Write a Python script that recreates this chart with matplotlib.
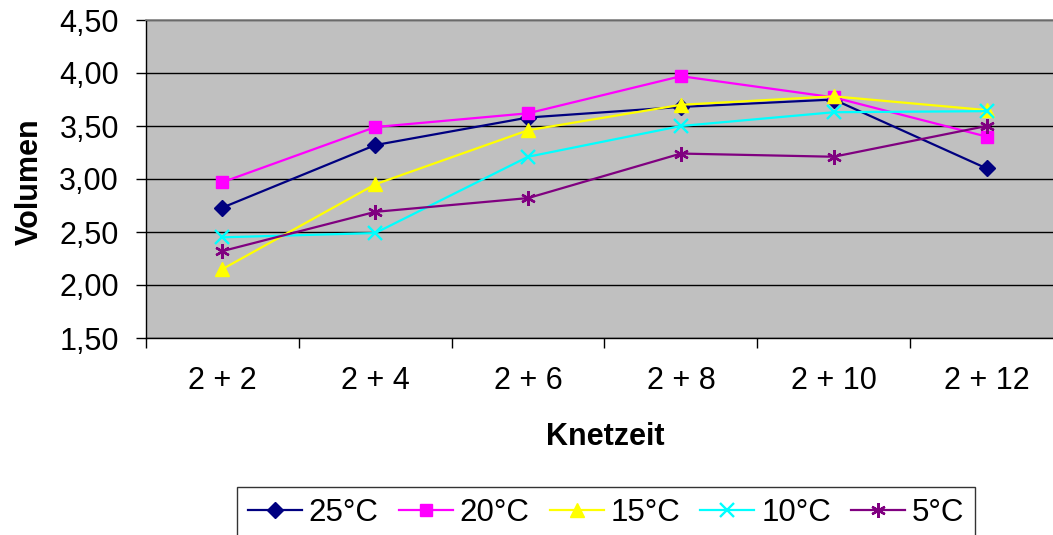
import matplotlib
matplotlib.use("Agg")
import matplotlib.pyplot as plt

plt.rcParams['font.family'] = ['Liberation Sans', 'DejaVu Sans']

categories = ["2 + 2", "2 + 4", "2 + 6", "2 + 8", "2 + 10", "2 + 12"]
series_names = ["25°C", "20°C", "15°C", "10°C", "5°C"]
v25 = [2.73, 3.32, 3.58, 3.68, 3.75, 3.10]
v20 = [2.97, 3.49, 3.62, 3.97, 3.77, 3.40]
v15 = [2.15, 2.95, 3.46, 3.70, 3.78, 3.65]
v10 = [2.45, 2.49, 3.21, 3.50, 3.63, 3.64]
v5 = [2.32, 2.69, 2.82, 3.24, 3.21, 3.50]
yticks = [1.5, 2.0, 2.5, 3.0, 3.5, 4.0, 4.5]
ytick_labels = ["1,50", "2,00", "2,50", "3,00", "3,50", "4,00", "4,50"]

values = [v25, v20, v15, v10, v5]
colors = ["#000080", "#FF00FF", "#FFFF00", "#00FFFF", "#800080"]
markers = ["D", "s", "^", "x", (6, 2, 0)]
msizes = [8, 8.5, 10, 9.5, 10.5]

FS = 22
W, H = 1053, 535
fig = plt.figure(figsize=(W / 100, H / 100), dpi=100)
l, r, t, b = 146, 1063, 20, 338
ax = fig.add_axes([l / W, 1 - b / H, (r - l) / W, (b - t) / H])
ax.set_facecolor("#C0C0C0")

x = list(range(len(categories)))
for name, vals, c, m, ms in zip(series_names, values, colors, markers, msizes):
    kw = dict(markerfacecolor=c, markeredgecolor=c)
    if m == "x" or isinstance(m, tuple):
        kw["markeredgewidth"] = 1.7
    ax.plot(x, vals, color=c, lw=1.6, marker=m, markersize=ms, label=name,
            zorder=3, **kw)

ax.set_xlim(-0.5, len(categories) - 0.5)
ax.set_ylim(1.5, 4.5)
ax.set_yticks(yticks)
ax.set_yticklabels(ytick_labels, fontsize=FS)
ax.set_xticks([i - 0.5 for i in range(len(categories) + 1)])
ax.set_xticklabels([])
ax.set_xticks(x, minor=True)
ax.set_xticklabels(categories, minor=True, fontsize=FS)
ax.tick_params(axis='x', which='minor', length=0, pad=20)
ax.tick_params(axis='x', which='major', length=7.5, width=1, direction='out')
ax.tick_params(axis='y', length=7.5, width=1, direction='out', pad=12)
ax.yaxis.grid(True, color="#000000", lw=1)
ax.set_axisbelow(True)
for s in ["top", "right"]:
    ax.spines[s].set_color("#808080")
    ax.spines[s].set_linewidth(1.2)
for s in ["left", "bottom"]:
    ax.spines[s].set_color("#000000")
    ax.spines[s].set_linewidth(1)

fig.text(30 / W, 1 - 182 / H, "Volumen", fontsize=FS, fontweight="bold",
         rotation=90, ha="center", va="center")
fig.text(605 / W, 1 - 437 / H, "Knetzeit", fontsize=FS, fontweight="bold",
         ha="center", va="center")

leg = fig.legend(loc="upper left", bbox_to_anchor=(237 / W, 1 - 487 / H),
                 borderaxespad=0, ncol=5, fontsize=22.5, frameon=True,
                 fancybox=False, handlelength=1.73, handletextpad=0.22,
                 columnspacing=0.64, borderpad=0.35)
leg.get_frame().set_edgecolor("#000000")
leg.get_frame().set_linewidth(1)

fig.savefig("out.png", dpi=100)
